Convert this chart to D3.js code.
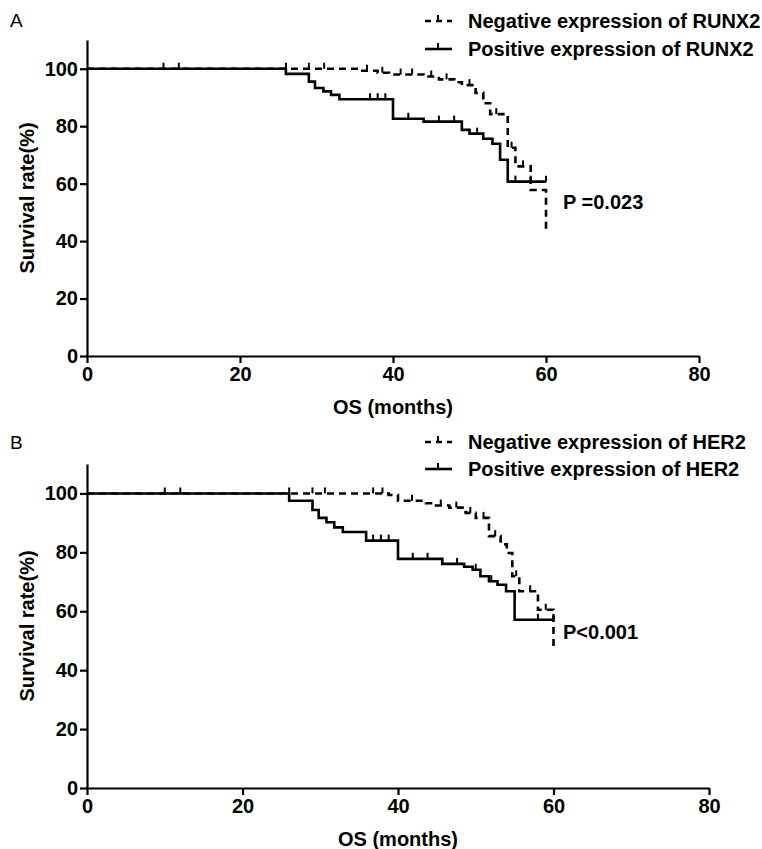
<!DOCTYPE html>
<html>
<head>
<meta charset="utf-8">
<script src="https://cdn.jsdelivr.net/npm/d3@7"></script>
<style>
  body { margin: 0; background: #fff; }
  text { font-family: "Liberation Sans", Arial, sans-serif; fill: #000; }
</style>
</head>
<body>
<div id="chart"></div>
<script>
// axis ticks
const monthTicks = [0, 20, 40, 60, 80];
const rateTicks = [0, 20, 40, 60, 80, 100];

// panel A - RUNX2 (event months and survival after each drop)
const runxNegMonths = [35.5, 38, 39.5, 44, 46, 48, 49, 50.8, 51.8, 52.7, 55, 56, 58, 60];
const runxNegRates  = [99.3, 98.6, 98, 97.3, 96.3, 95.3, 94.3, 91.6, 88, 84.2, 72.5, 66, 57.8, 43];
const runxNegCensor = [26, 29, 31, 36.6, 38.6, 41, 42.5, 45, 47, 50, 53.5, 55.5, 57];
const runxPosMonths = [26, 29, 29.8, 30.9, 31.9, 33, 40, 44, 49, 50, 51.8, 53, 54, 55];
const runxPosRates  = [98.2, 95.5, 93.3, 92.1, 90.9, 89.4, 82.6, 81.6, 78.7, 77.4, 75.6, 73.9, 68.3, 60.7];
const runxPosCensor = [10, 12, 37, 38, 39, 42, 46, 48, 51, 56, 58, 60];

// panel B - HER2
const herNegMonths = [38.8, 40, 43.6, 44.9, 46.6, 48.7, 50, 51.7, 53.2, 54, 54.7, 55.6, 58, 60];
const herNegRates  = [99.5, 97.5, 96.7, 95.9, 95.2, 93.4, 91.7, 85.5, 82.7, 79.8, 71.9, 66.8, 60.5, 48.1];
const herNegCensor = [26, 29, 30.6, 36.8, 38, 41.8, 45.5, 47.5, 49.3, 51, 52.5, 55.2, 57, 59];
const herPosMonths = [26, 29, 29.8, 30.8, 31.8, 32.9, 35.9, 40, 45.7, 48.5, 49.6, 50.6, 51.7, 52.8, 53.9, 55];
const herPosRates  = [97.5, 94.4, 91.7, 90.2, 88.5, 86.9, 84, 77.8, 76.1, 75.1, 74.1, 71.9, 70.2, 69, 66.8, 57.1];
const herPosCensor = [10, 12, 36.8, 37.8, 38.8, 41.9, 43.8, 47.6, 50, 52, 58, 60];

const followUp = 60;

const panels = [
  {
    label: "A", gene: "RUNX2", pText: "P =0.023",
    neg: { months: runxNegMonths, rates: runxNegRates, censor: runxNegCensor },
    pos: { months: runxPosMonths, rates: runxPosRates, censor: runxPosCensor },
    left: 87, right: 699, top: 40, bottom: 356,
    labelY: 20, legendY: [21, 49], pY: 202
  },
  {
    label: "B", gene: "HER2", pText: "P<0.001",
    neg: { months: herNegMonths, rates: herNegRates, censor: herNegCensor },
    pos: { months: herPosMonths, rates: herPosRates, censor: herPosCensor },
    left: 87, right: 709, top: 464, bottom: 788,
    labelY: 442, legendY: [442, 469], pY: 632
  }
];

const svg = d3.select("#chart").append("svg")
  .attr("width", 762)
  .attr("height", 849);

panels.forEach(function(p) {
  const x = d3.scaleLinear().domain([0, 80]).range([p.left, p.right]);
  const y = d3.scaleLinear().domain([0, 110]).range([p.bottom, p.top]);
  const g = svg.append("g");

  // survival after time t (step function)
  const rateAt = (s, t) => {
    let r = 100;
    s.months.forEach((m, i) => { if (m <= t) r = s.rates[i]; });
    return r;
  };

  const line = d3.line()
    .x(d => x(d[0]))
    .y(d => y(d[1]))
    .curve(d3.curveStepAfter);

  const drawCurve = (s, dashed) => {
    const pts = [[0, 100]].concat(s.months.map((m, i) => [m, s.rates[i]]));
    const last = pts[pts.length - 1];
    if (last[0] < followUp) pts.push([followUp, last[1]]);
    g.append("path")
      .attr("d", line(pts))
      .attr("fill", "none")
      .attr("stroke", "#000")
      .attr("stroke-width", 2.6)
      .attr("stroke-dasharray", dashed ? "7,5" : null);
    // censor marks
    g.append("g").selectAll("line")
      .data(s.censor)
      .join("line")
      .attr("x1", d => x(d)).attr("x2", d => x(d))
      .attr("y1", d => y(rateAt(s, d)))
      .attr("y2", d => y(rateAt(s, d)) - 6)
      .attr("stroke", "#000")
      .attr("stroke-width", 2);
  };

  drawCurve(p.pos, false);
  drawCurve(p.neg, true);

  // axes
  const xAxis = g.append("g")
    .attr("transform", `translate(0,${p.bottom})`)
    .call(d3.axisBottom(x).tickValues(monthTicks).tickSize(7).tickSizeOuter(0).tickPadding(4));
  const yAxis = g.append("g")
    .attr("transform", `translate(${p.left},0)`)
    .call(d3.axisLeft(y).tickValues(rateTicks).tickSize(7).tickSizeOuter(0).tickPadding(2));
  [xAxis, yAxis].forEach(a => {
    a.selectAll("path, line").attr("stroke", "#000").attr("stroke-width", 2.2);
    a.selectAll("text")
      .attr("fill", "#000")
      .style("font-size", "20px")
      .style("font-weight", "bold");
  });

  // axis titles
  g.append("text")
    .attr("x", (p.left + p.right) / 2)
    .attr("y", p.bottom + 58)
    .attr("text-anchor", "middle")
    .style("font-size", "20px")
    .style("font-weight", "bold")
    .text("OS (months)");
  g.append("text")
    .attr("transform", `translate(27,${(p.top + p.bottom) / 2}) rotate(-90)`)
    .attr("dy", "0.35em")
    .attr("text-anchor", "middle")
    .style("font-size", "20px")
    .style("font-weight", "bold")
    .text("Survival rate(%)");

  // panel letter
  g.append("text")
    .attr("x", 10)
    .attr("y", p.labelY)
    .attr("dy", "0.35em")
    .style("font-size", "19px")
    .text(p.label);

  // legend
  const legend = g.append("g");
  [["neg", "Negative expression of "], ["pos", "Positive expression of "]].forEach(function(d, i) {
    const ly = p.legendY[i];
    legend.append("line")
      .attr("x1", 425).attr("x2", 452)
      .attr("y1", ly).attr("y2", ly)
      .attr("stroke", "#000")
      .attr("stroke-width", 2.6)
      .attr("stroke-dasharray", d[0] === "neg" ? "6,5" : null);
    legend.append("line")
      .attr("x1", 438).attr("x2", 438)
      .attr("y1", ly).attr("y2", ly - 6)
      .attr("stroke", "#000")
      .attr("stroke-width", 2);
    legend.append("text")
      .attr("x", 468)
      .attr("y", ly)
      .attr("dy", "0.35em")
      .style("font-size", "20px")
      .style("font-weight", "bold")
      .text(d[1] + p.gene);
  });

  // p value
  g.append("text")
    .attr("x", 563)
    .attr("y", p.pY)
    .attr("dy", "0.35em")
    .style("font-size", "20px")
    .style("font-weight", "bold")
    .text(p.pText);
});
</script>
</body>
</html>
